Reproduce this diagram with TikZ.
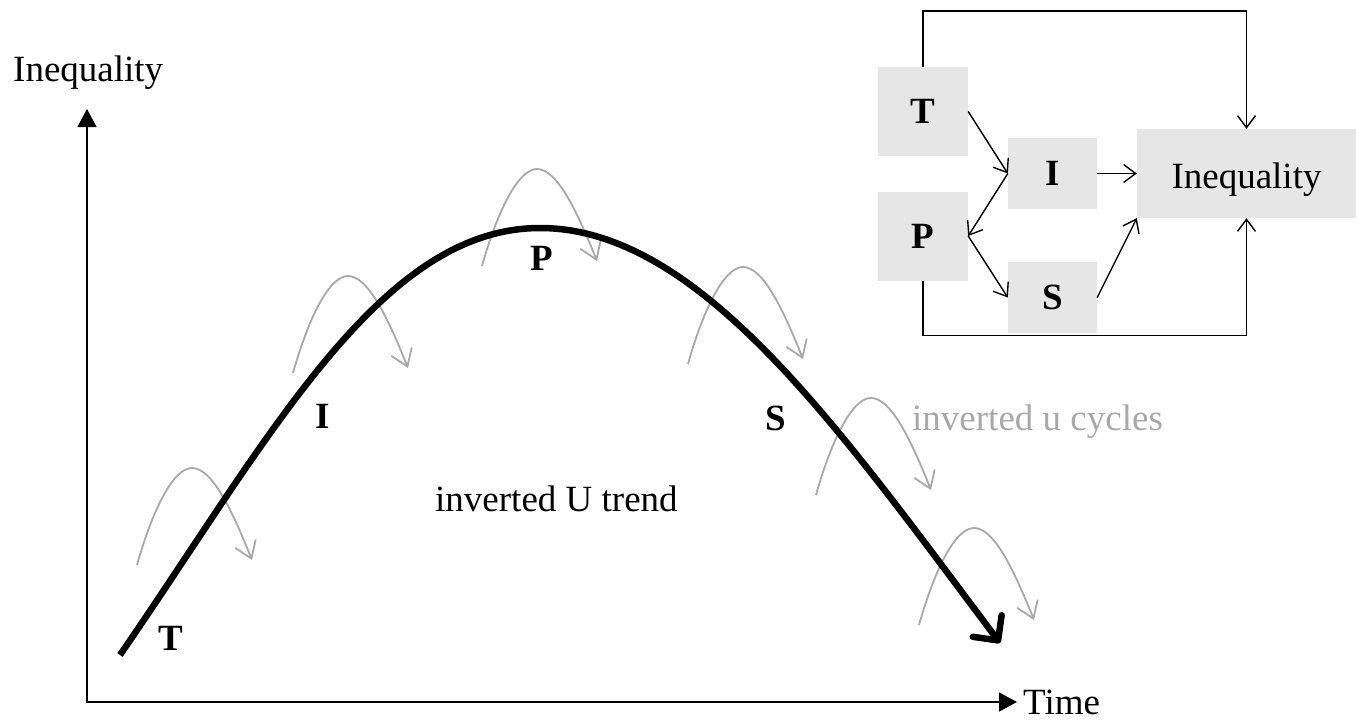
\documentclass[tikz,border=0pt]{standalone}
\usepackage{fontspec}
\setmainfont{Liberation Serif}
\usetikzlibrary{arrows.meta}
\definecolor{boxgrey}{RGB}{230,230,230}
\definecolor{cyc}{RGB}{168,168,168}
\begin{document}
\begin{tikzpicture}[x=1pt,y=-1pt,
  every node/.style={font=\fontsize{37}{44}\selectfont, inner sep=0pt},
  axis/.style={line width=1.6pt, {Triangle[length=18pt,width=19pt]}-{Triangle[length=18pt,width=19pt]}},
  trend/.style={line width=6.5pt, -{Straight Barb[length=18pt,width=36pt,round]}},
  cyclearrow/.style={draw=cyc, line width=1.8pt, -{Straight Barb[length=16pt,width=22pt]}},
  box/.style={fill=boxgrey, minimum width=90pt, minimum height=89pt},
  link/.style={line width=1.4pt, -{Straight Barb[length=12pt,width=18pt]}},
  lab/.style={font=\fontsize{37}{44}\selectfont\bfseries},
  cycle/.pic={\draw[cyclearrow] (0,0) .. controls (14,-50) and (35,-97) .. (55,-97) .. controls (75,-97) and (95,-55) .. (115,-5);}
]
\useasboundingbox (0,0) rectangle (1357,721);

% axes
\coordinate (O) at (87,702);
\coordinate (ytip) at (87,109);
\coordinate (xtip) at (1017,702);
\draw[axis] (ytip) -- (O) -- (xtip);
\node[anchor=base west] (ylab) at (13,81) {Inequality};
\node[anchor=base west] (xlab) at (1023,714) {Time};

% cycles
\pic at (137,565) {cycle};
\pic at (293,373) {cycle};
\pic at (482,266) {cycle};
\pic at (688,364) {cycle};
\pic at (816,495) {cycle};
\pic at (919,625) {cycle};

% trend
\draw[trend] (120,655) .. controls (270,437) and (380,228) .. (540,228)
  .. controls (700,228) and (840,430) .. (1000,643);

% labels
\node[lab] (lT) at (171,638) {T};
\node[lab] (lI) at (323,416) {I};
\node[lab] (lP) at (542,258) {P};
\node[lab] (lS) at (776,418) {S};
\node[anchor=base west] (trendlab) at (435,511) {inverted U trend};
\node[anchor=base west, text=cyc] (cyclab) at (912,430) {inverted u cycles};

% inset
\node[box] (bT) at (923,111.5) {\textbf{T}};
\node[box] (bP) at (923,236) {\textbf{P}};
\node[box, minimum width=89pt, minimum height=71pt] (bI) at (1052.5,173.5) {\textbf{I}};
\node[box, minimum width=89pt, minimum height=71pt] (bS) at (1052.5,297.5) {\textbf{S}};
\node[box, minimum width=219pt, text depth=0pt, text height=30pt] (bQ) at (1246.5,173.5) {Inequality};

\draw[link] (bT.east) -- (bI.west);
\draw[link] (bI.west) -- (bP.east);
\draw[link] (bP.east) -- (bS.west);
\draw[link] (bS.east) -- (bQ.south west);
\draw[link] (bI.east) -- (bQ.west);
\draw[link] (bT.north) -- ++(0,-56) -| (bQ.north);
\draw[link] (bP.south) -- ++(0,55) -| (bQ.south);
\end{tikzpicture}
\end{document}
